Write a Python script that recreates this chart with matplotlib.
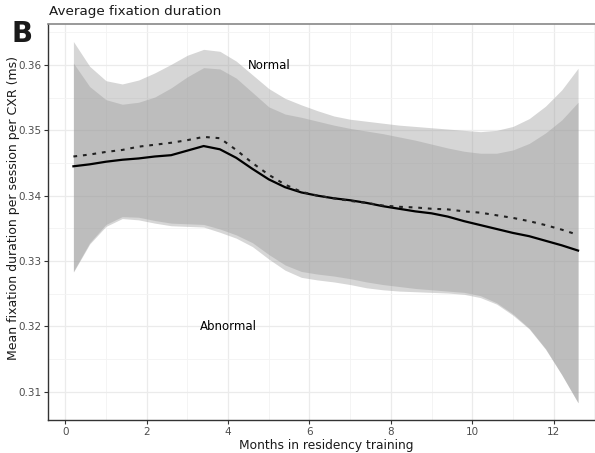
import numpy as np
import matplotlib
matplotlib.use("Agg")
import matplotlib.pyplot as plt
from matplotlib.ticker import MultipleLocator

months = [0.2, 0.6, 1.0, 1.4, 1.8, 2.2, 2.6, 3.0, 3.4, 3.8, 4.2, 4.6, 5.0, 5.4, 5.8, 6.2,
          6.6, 7.0, 7.4, 7.8, 8.2, 8.6, 9.0, 9.4, 9.8, 10.2, 10.6, 11.0, 11.4, 11.8, 12.2, 12.6]

# solid fit and its ribbon
fit_solid = [0.3445, 0.3448, 0.3452, 0.3455, 0.3457, 0.3460, 0.3462, 0.3469, 0.3476, 0.3471,
             0.3458, 0.3441, 0.3425, 0.3413, 0.3405, 0.3400, 0.3396, 0.3393, 0.3389, 0.3384,
             0.3380, 0.3376, 0.3373, 0.3368, 0.3361, 0.3355, 0.3349, 0.3343, 0.3338, 0.3331,
             0.3324, 0.3316]
upper_solid = [0.3603, 0.3567, 0.3547, 0.3540, 0.3543, 0.3551, 0.3565, 0.3582, 0.3596, 0.3594,
               0.3580, 0.3558, 0.3536, 0.3525, 0.3520, 0.3514, 0.3508, 0.3503, 0.3499, 0.3495,
               0.3490, 0.3485, 0.3479, 0.3473, 0.3468, 0.3465, 0.3465, 0.3470, 0.3480, 0.3496,
               0.3516, 0.3543]
lower_solid = [0.3283, 0.3326, 0.3353, 0.3365, 0.3363, 0.3358, 0.3354, 0.3353, 0.3352, 0.3344,
               0.3335, 0.3322, 0.3303, 0.3286, 0.3275, 0.3271, 0.3268, 0.3264, 0.3259, 0.3256,
               0.3254, 0.3253, 0.3252, 0.3251, 0.3249, 0.3244, 0.3234, 0.3217, 0.3196, 0.3165,
               0.3126, 0.3083]

# dotted fit and its ribbon
fit_dotted = [0.3460, 0.3463, 0.3467, 0.3470, 0.3475, 0.3478, 0.3481, 0.3485, 0.3490, 0.3488,
              0.3470, 0.3450, 0.3432, 0.3417, 0.3406, 0.3400, 0.3396, 0.3392, 0.3389, 0.3385,
              0.3383, 0.3382, 0.3380, 0.3379, 0.3376, 0.3374, 0.3370, 0.3366, 0.3361, 0.3355,
              0.3348, 0.3340]
upper_dotted = [0.3636, 0.3598, 0.3576, 0.3571, 0.3577, 0.3588, 0.3601, 0.3615, 0.3624, 0.3621,
                0.3606, 0.3585, 0.3564, 0.3549, 0.3539, 0.3530, 0.3522, 0.3517, 0.3514, 0.3511,
                0.3508, 0.3506, 0.3504, 0.3502, 0.3500, 0.3498, 0.3500, 0.3506, 0.3518, 0.3537,
                0.3562, 0.3595]
lower_dotted = [0.3284, 0.3328, 0.3356, 0.3368, 0.3367, 0.3362, 0.3358, 0.3357, 0.3356, 0.3349,
                0.3340, 0.3328, 0.3310, 0.3294, 0.3284, 0.3280, 0.3277, 0.3273, 0.3268, 0.3264,
                0.3261, 0.3258, 0.3256, 0.3254, 0.3252, 0.3247, 0.3236, 0.3219, 0.3197, 0.3166,
                0.3126, 0.3083]

x_ticks = [0, 2, 4, 6, 8, 10, 12]
y_ticks = [0.31, 0.32, 0.33, 0.34, 0.35, 0.36]

plt.rcParams["font.family"] = "DejaVu Sans"

fig = plt.figure(figsize=(5.95, 4.53), dpi=100)
ax = fig.add_axes([48.3 / 595, 1 - 420.3 / 453, (603.7 - 48.3) / 595, (420.3 - 24) / 453])

# ribbons (grey60, alpha 0.4 like ggplot's se band)
ax.fill_between(months, lower_solid, upper_solid, color="#999999", alpha=0.4, lw=0, zorder=2)
ax.fill_between(months, lower_dotted, upper_dotted, color="#999999", alpha=0.4, lw=0, zorder=2)

ax.plot(months, fit_solid, color="black", lw=1.6, solid_joinstyle="round", zorder=3)
ax.plot(months, fit_dotted, color="#222222", lw=1.5, dashes=(1.8, 2.8), zorder=3)

ax.text(5.0, 0.360, "Normal", ha="center", va="center", fontsize=8.5)
ax.text(4.0, 0.320, "Abnormal", ha="center", va="center", fontsize=8.5)

ax.set_xlim(-0.417, 13.23)
ax.set_ylim(0.30562, 0.36628)
ax.set_xticks(x_ticks)
ax.set_yticks(y_ticks)
ax.set_yticklabels(["%.2f" % v for v in y_ticks])
ax.xaxis.set_minor_locator(MultipleLocator(1))
ax.yaxis.set_minor_locator(MultipleLocator(0.005))
ax.tick_params(which="major", length=3, width=0.8, color="#333333", labelcolor="#4d4d4d",
               labelsize=7.5, pad=2)
ax.tick_params(which="minor", length=0)
ax.grid(which="major", color="#ebebeb", lw=0.9, zorder=0)
ax.grid(which="minor", color="#f3f3f3", lw=0.6, zorder=0)
ax.set_axisbelow(True)

for side in ["left", "bottom"]:
    ax.spines[side].set_color("#333333")
    ax.spines[side].set_linewidth(1.0)
ax.spines["top"].set_color("#888888")
ax.spines["top"].set_linewidth(1.2)
ax.spines["right"].set_visible(False)

ax.set_xlabel("Months in residency training", fontsize=8.8, color="#1a1a1a", labelpad=1)
fig.text(14 / 595, 1 - 208 / 453, "Mean fixation duration per session per CXR (ms)",
         rotation=90, ha="center", va="center", fontsize=9, color="#1a1a1a")

fig.text(49 / 595, 1 - 12 / 453, "Average fixation duration", ha="left", va="center",
         fontsize=9.7, color="#1a1a1a")
fig.text(11 / 595, 1 - 34 / 453, "B", ha="left", va="center", fontsize=20,
         fontweight="bold", color="#1a1a1a")

fig.savefig("out.png", dpi=100)
